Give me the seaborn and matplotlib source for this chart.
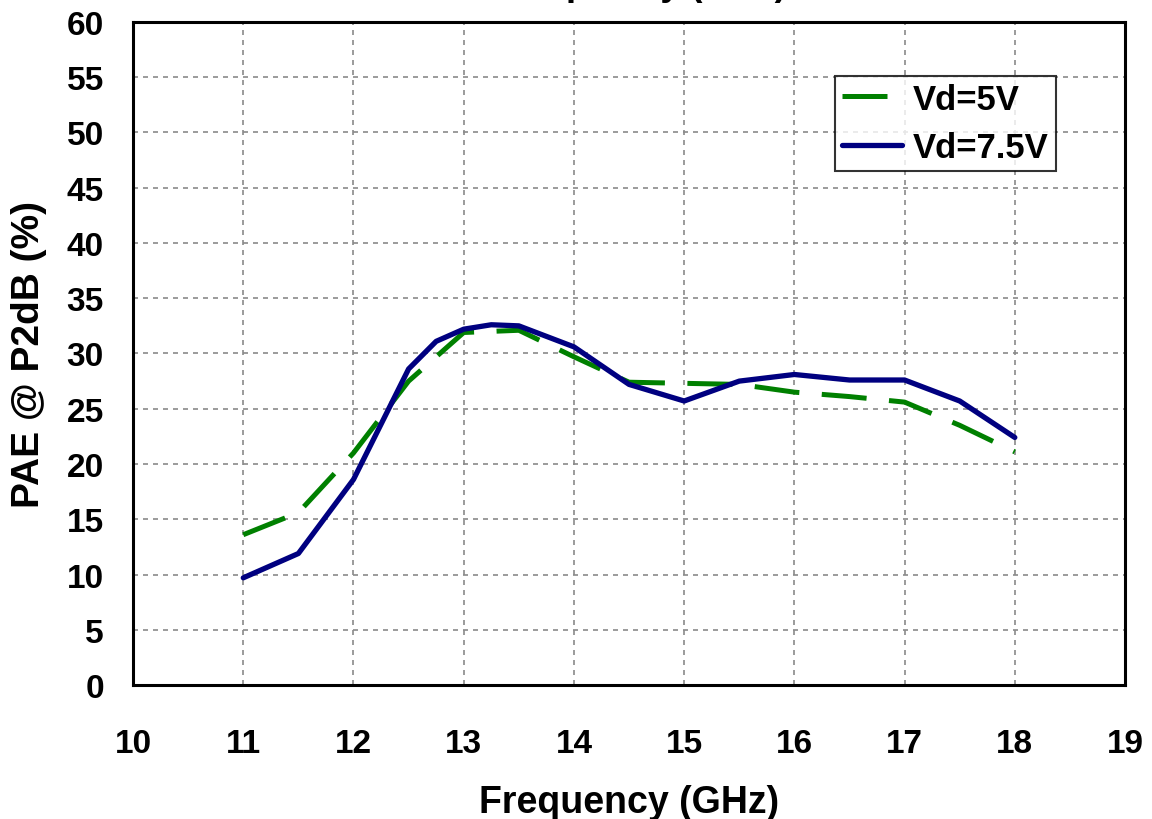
import numpy as np
import pandas as pd
import matplotlib
matplotlib.use("Agg")
import matplotlib.pyplot as plt
import seaborn as sns

#### data
freq_5v = [11, 11.5, 12, 12.5, 13, 13.5, 14, 14.5, 15, 15.5, 16, 16.5, 17, 17.5, 18]
pae_5v = [13.6, 15.6, 21.0, 27.5, 31.9, 32.1, 29.7, 27.4, 27.3, 27.2, 26.5, 26.1, 25.6, 23.5, 21.1]

freq_75v = [11, 11.5, 12, 12.5, 12.75, 13, 13.25, 13.5, 14, 14.5, 15, 15.5, 16, 16.5, 17, 17.5, 18]
pae_75v = [9.7, 11.9, 18.6, 28.6, 31.1, 32.2, 32.6, 32.5, 30.6, 27.2, 25.7, 27.5, 28.1, 27.6, 27.6, 25.7, 22.4]

labels = ["Vd=5V", "Vd=7.5V"]
x_ticks = list(range(10, 20))
y_ticks = list(range(0, 65, 5))

df5 = pd.DataFrame({"freq": freq_5v, "pae": pae_5v})
df75 = pd.DataFrame({"freq": freq_75v, "pae": pae_75v})

sns.set_style("white")
plt.rcParams['font.family'] = ['Liberation Sans', 'DejaVu Sans']
plt.rcParams['font.weight'] = 'bold'
plt.rcParams['text.color'] = 'black'
plt.rcParams['axes.labelcolor'] = 'black'
plt.rcParams['xtick.color'] = 'black'
plt.rcParams['ytick.color'] = 'black'

fig = plt.figure(figsize=(11.52, 8.2), dpi=100)
ax = fig.add_axes([0.1155, 0.1634, 0.8611, 0.8086])

sns.lineplot(data=df5, x="freq", y="pae", ax=ax, color="#008000", linewidth=3.6,
             linestyle=(0, (9, 4.5)), label=labels[0])
sns.lineplot(data=df75, x="freq", y="pae", ax=ax, color="#000080", linewidth=3.8,
             label=labels[1])

ax.set_xlim(10, 19)
ax.set_ylim(0, 60)
ax.set_xticks(x_ticks)
ax.set_yticks(y_ticks)
ax.grid(True, color="#8a8a8a", linestyle=(0, (3, 3)), linewidth=1.2)
ax.set_axisbelow(True)

for s in ax.spines.values():
    s.set_color("black")
    s.set_linewidth(2.2)

ax.tick_params(axis="both", direction="out", length=7, width=1.3, color="#333333",
               labelsize=24, labelcolor="black")
ax.tick_params(axis="y", pad=14)
ax.tick_params(axis="x", pad=24)
for t in ax.get_xticklabels() + ax.get_yticklabels():
    t.set_fontweight("bold")

ax.set_xlabel("Frequency (GHz)", fontsize=27, fontweight="bold", labelpad=18)
ax.set_ylabel("PAE @ P2dB (%)", fontsize=28, fontweight="bold", labelpad=14)

leg = ax.legend(loc="upper right", bbox_to_anchor=(0.930, 0.919), borderaxespad=0,
                fontsize=25, handlelength=1.75, labelspacing=0.45, frameon=True,
                fancybox=False, borderpad=0.2, handletextpad=0.3)
leg.get_frame().set_edgecolor("black")
leg.get_frame().set_linewidth(1.5)
for t in leg.get_texts():
    t.set_fontweight("bold")
    t.set_color("black")

# title is cut off at the top edge in the reference, only descenders show
fig.text(0.683, 1.0 + 5 / 820, "PAE vs Frequency (GHz)", ha="right", va="baseline",
         fontsize=26, fontweight="bold")

fig.savefig("out.png", dpi=100)
